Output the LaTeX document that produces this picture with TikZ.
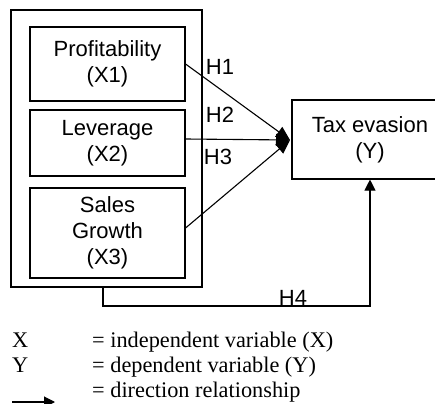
\documentclass[tikz,border=0pt]{standalone}
\usepackage{fontspec}
\setmainfont{Liberation Serif}
\setsansfont{Liberation Sans}
\usetikzlibrary{arrows.meta}
\begin{document}
\begin{tikzpicture}[x=1pt,y=-1pt,
  box/.style={draw, line width=1.1pt, inner sep=0pt, align=center,
    font=\sffamily\fontsize{22}{26}\selectfont},
  hlab/.style={font=\sffamily\fontsize{22}{26}\selectfont, inner sep=0pt},
  leg/.style={font=\fontsize{22.3}{25}\selectfont, inner sep=0pt, anchor=base west},
  conn/.style={line width=1.1pt, -{Triangle[length=14pt,width=12pt]}},
  vconn/.style={line width=1.1pt, -{Triangle[length=11pt,width=11pt]}},
  plain/.style={line width=1.1pt}]
\useasboundingbox (0,0) rectangle (435,403);
\begin{scope}
\clip (0,0) rectangle (435,403);
% outer box
\node[box, minimum width=191pt, minimum height=277pt] (outer) at (106.5,148.5) {};
\node[box, minimum width=155pt, minimum height=74pt] (prof) at (107.5,64) {Profitability\\(X1)};
\node[box, minimum width=155pt, minimum height=66pt] (lev) at (107.5,143) {Leverage\\(X2)};
\node[box, minimum width=155pt, minimum height=90pt] (sales) at (107.5,233) {Sales\\Growth\\(X3)};
\node[box, minimum width=156pt, minimum height=79pt] (tax) at (370,139.5) {Tax evasion\\(Y)};
\coordinate (tip) at (290,140);
\draw[conn] (prof.east) -- (tip);
\draw[conn] ([yshift=4pt]lev.east) -- (tip);
\draw[conn] ([yshift=5pt]sales.east) -- (tip);
\coordinate (c1) at (103,306);
\draw[vconn] (outer.south -| c1) -- (c1) -| (tax.south);
\node[hlab] (h1) at (220,67) {H1};
\node[hlab] (h2) at (220,115) {H2};
\node[hlab] (h3) at (218,157) {H3};
\node[hlab] (h4) at (293,298) {H4};
% legend
\node[leg] (lx) at (12,347) {X};
\node[leg] (ly) at (12,372) {Y};
\node[leg] (lxt) at (92,347) {= independent variable (X)};
\node[leg] (lyt) at (92,372) {= dependent variable (Y)};
\node[leg] (lat) at (92,397) {= direction relationship};
\coordinate (la) at (12,402);
\coordinate (lb) at (55,402);
\draw[vconn] (la) -- (lb);
\end{scope}
\end{tikzpicture}
\end{document}
